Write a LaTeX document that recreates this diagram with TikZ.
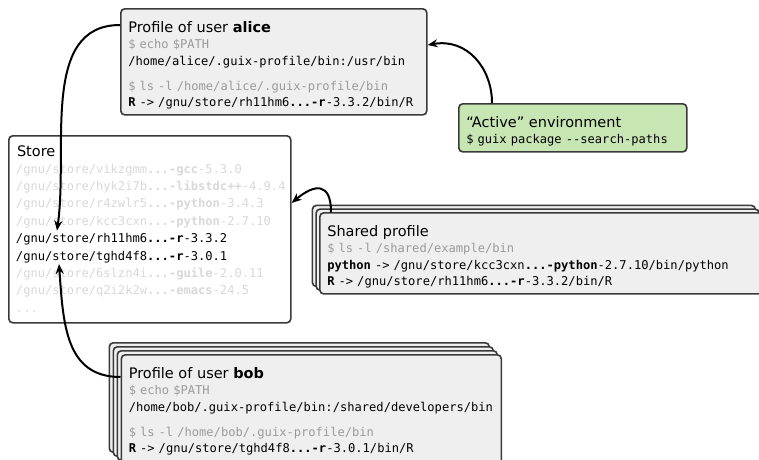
\documentclass[tikz,border=0pt]{standalone}
\usepackage{fontspec}
\setmainfont{DejaVu Sans}
\setmonofont{DejaVu Sans Mono}
\usepackage{tikz}
\usetikzlibrary{arrows.meta,positioning,shadows}

\definecolor{boxfill}{HTML}{EFEFEF}
\definecolor{boxline}{HTML}{3A3A3A}
\definecolor{cmdgray}{HTML}{9A9A9A}
\definecolor{faded}{HTML}{D9D9D9}
\definecolor{envfill}{HTML}{C8E6B4}

\newcommand{\codefont}{\fontsize{12.1}{16.5}\selectfont\ttfamily\spaceskip=0.602em\xspaceskip=0.602em\relax}
\newcommand{\headfont}{\fontsize{14.5}{17}\selectfont\rmfamily\spaceskip=0pt\xspaceskip=0pt\relax}
\newcommand{\topstrut}{\rule{0pt}{18pt}}
\newcommand{\cmd}[1]{\textcolor{cmdgray}{\$ #1}}

\tikzset{
  profile/.style={draw=boxline, fill=boxfill, line width=1.6pt, rounded corners=4pt,
    anchor=north west, align=left, inner xsep=7.5pt, inner ysep=5.5pt, font=\codefont},
  envbox/.style={profile, fill=envfill},
  stacked/.style={copy shadow={shadow xshift=-#1, shadow yshift=#1,
    fill=boxfill, draw=boxline, line width=1.6pt}},
  row/.style={font=\codefont, text width=268pt, align=left, inner sep=0pt,
    text height=11pt, text depth=3pt, text=faded},
  storebox/.style={draw=boxline, fill=white, line width=1.6pt, rounded corners=4pt,
    anchor=north west, minimum width=282pt, minimum height=187pt},
}

\begin{document}
\begin{tikzpicture}[->, >={Stealth[length=10pt,width=8pt]}, line width=2pt,
    x=1pt, y=1pt, node distance=17.4pt]
  \useasboundingbox (0,0) rectangle (759,-459);
  \clip (0,0) rectangle (759,-459);

  % the store
  \node[storebox] (store) at (8,-135) {};
  \node[font=\headfont, anchor=base west, inner sep=0pt] (storetitle) at (16,-156) {Store};
  \node[row] (s1) at (150,-169) {/gnu/store/vikzgmm\textbf{...-gcc}-5.3.0};
  \node[row] (s2) [below of=s1] {/gnu/store/hyk2i7b\textbf{...-libstdc++}-4.9.4};
  \node[row] (s3) [below of=s2] {/gnu/store/r4zwlr5\textbf{...-python}-3.4.3};
  \node[row] (s4) [below of=s3] {/gnu/store/kcc3cxn\textbf{...-python}-2.7.10};
  \node[row, text=black] (s5) [below of=s4] {/gnu/store/rh11hm6\textbf{...-r}-3.3.2};
  \node[row, text=black] (s6) [below of=s5] {/gnu/store/tghd4f8\textbf{...-r}-3.0.1};
  \node[row] (s7) [below of=s6] {/gnu/store/6slzn4i\textbf{...-guile}-2.0.11};
  \node[row] (s8) [below of=s7] {/gnu/store/q2i2k2w\textbf{...-emacs}-24.5};
  \node[row] (s9) [below of=s8] {...};

  % profiles
  \node[profile, text width=291pt] (alice) at (120,-8) {%
    {\headfont\topstrut Profile of user \textbf{alice}}\\
    \cmd{echo \$PATH}\\
    /home/alice/.guix-profile/bin:/usr/bin\\[8.5pt]
    \cmd{ls -l /home/alice/.guix-profile/bin}\\
    \textbf{R} -> /gnu/store/rh11hm6\textbf{...-r}-3.3.2/bin/R};

  \node[profile, stacked=7.4pt, stacked=3.7pt, text width=428pt] (shared) at (319,-212) {%
    {\headfont\topstrut Shared profile}\\
    \cmd{ls -l /shared/example/bin}\\
    \textbf{python} -> /gnu/store/kcc3cxn\textbf{...-python}-2.7.10/bin/python\\
    \textbf{R} -> /gnu/store/rh11hm6\textbf{...-r}-3.3.2/bin/R};

  \node[profile, stacked=12pt, stacked=8pt, stacked=4pt, text width=365pt] (bob) at (120.5,-354) {%
    {\headfont\topstrut Profile of user \textbf{bob}}\\
    \cmd{echo \$PATH}\\
    /home/bob/.guix-profile/bin:/shared/developers/bin\\[8.5pt]
    \cmd{ls -l /home/bob/.guix-profile/bin}\\
    \textbf{R} -> /gnu/store/tghd4f8\textbf{...-r}-3.0.1/bin/R\rule[-6pt]{0pt}{6pt}};

  \node[envbox, text width=213pt] (active) at (458,-103) {%
    {\headfont\topstrut “Active” environment}\\
    \$ guix package -{}-search-paths};

  \path ([yshift=-17pt]alice.north west) edge[out=180, in=82, out distance=80pt, in distance=83pt] ([xshift=42pt]s5.north west)
        ([yshift=-23pt]bob.north west) edge[out=180, in=-86, out distance=55pt, in distance=60pt] ([xshift=44pt]s6.south west)
        ([xshift=12pt]shared.north west) edge[out=90, in=40, out distance=30pt, in distance=30pt] ([yshift=-68pt]store.north east)
        ([xshift=34pt]active.north west) edge[out=90, in=10, out distance=35pt, in distance=40pt] ([yshift=-37pt]alice.north east);
\end{tikzpicture}
\end{document}
